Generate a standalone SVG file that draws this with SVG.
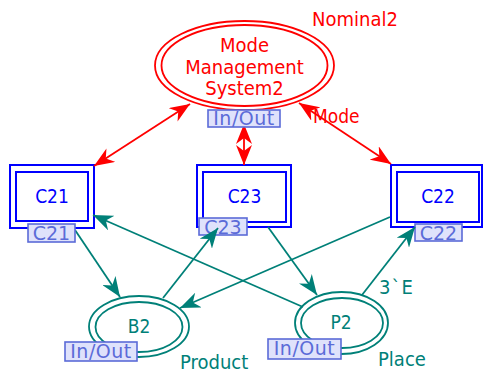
<svg xmlns="http://www.w3.org/2000/svg" width="484" height="373" viewBox="0 0 484 373">
<style>
text{font-family:"DejaVu Sans Condensed","DejaVu Sans",sans-serif;}
.red{fill:none;stroke:#ff0000;stroke-width:1.8;}
.redt{fill:#ff0000;font-size:20px;}
.blue{fill:none;stroke:#0000ff;stroke-width:2;}
.bluet{fill:#0000ff;font-size:19px;text-anchor:middle;}
.teal{fill:none;stroke:#008078;stroke-width:1.8;}
.tealt{fill:#008078;font-size:20px;}
.tag{fill:#dfe2fb;stroke:#5b6bd8;stroke-width:1.6;}
.tagt{fill:#5b6bd8;font-size:19px;font-family:"DejaVu Sans",sans-serif;}
.cr{stroke:#ff0000;stroke-width:1.8;fill:none;marker-start:url(#ar);marker-end:url(#ar);}
.ct{stroke:#008078;stroke-width:1.8;fill:none;marker-end:url(#at);}
</style>
<defs>
<marker id="ar" viewBox="0 0 20 16" refX="20" refY="8" markerWidth="20" markerHeight="16" markerUnits="userSpaceOnUse" orient="auto-start-reverse"><path d="M0,0 L20,8 L0,16 L6,8 z" fill="#ff0000"/></marker>
<marker id="at" viewBox="0 0 20 16" refX="20" refY="8" markerWidth="20" markerHeight="16" markerUnits="userSpaceOnUse" orient="auto"><path d="M0,0 L20,8 L0,16 L6,8 z" fill="#008078"/></marker>
</defs>
<rect width="484" height="373" fill="#ffffff"/>
<g id="MMS2">
<ellipse cx="244.5" cy="65.5" rx="89.5" ry="44.5" fill="#ffffff" stroke="#ff0000" stroke-width="1.8"/>
<ellipse cx="244.5" cy="65.5" rx="83" ry="40.5" class="red"/>
<text class="redt" x="244.5" y="52" text-anchor="middle">Mode</text>
<text class="redt" x="244.5" y="74" text-anchor="middle">Management</text>
<text class="redt" x="244.5" y="95" text-anchor="middle">System2</text>
<text class="redt" x="312" y="26">Nominal2</text>
</g>
<g id="C21">
<rect class="blue" x="10" y="165" width="84" height="63" fill="#ffffff"/>
<rect class="blue" x="16" y="172" width="72" height="49"/>
<text class="bluet" x="52" y="203">C21</text>
</g>
<g id="C23">
<rect class="blue" x="197" y="165" width="94" height="62" fill="#ffffff"/>
<rect class="blue" x="203" y="172" width="83" height="50"/>
<text class="bluet" x="244.5" y="203">C23</text>
</g>
<g id="C22">
<rect class="blue" x="391" y="165" width="91" height="62" fill="#ffffff"/>
<rect class="blue" x="397" y="172" width="82" height="50"/>
<text class="bluet" x="438" y="203">C22</text>
</g>
<g id="B2">
<ellipse cx="139" cy="326.5" rx="50" ry="30.5" fill="#ffffff" stroke="#008078" stroke-width="1.8"/>
<ellipse cx="139" cy="327" rx="43.5" ry="25" class="teal"/>
<text class="tealt" x="139" y="333" text-anchor="middle" style="font-size:19px">B2</text>
<text class="tealt" x="180" y="369">Product</text>
</g>
<g id="P2">
<ellipse cx="341.5" cy="323" rx="46.5" ry="31" fill="#ffffff" stroke="#008078" stroke-width="1.8"/>
<ellipse cx="342" cy="323" rx="41" ry="25" class="teal"/>
<text class="tealt" x="341" y="329" text-anchor="middle" style="font-size:19px">P2</text>
<text class="tealt" x="378" y="366">Place</text>
</g>
<g id="connectors">
<line class="cr" x1="190" y1="104" x2="94" y2="166"/>
<line class="cr" x1="244" y1="124" x2="244" y2="165"/>
<line class="cr" x1="299" y1="103" x2="391" y2="164"/>
<text class="redt" x="313" y="123" style="font-size:19px">Mode</text>
<line class="ct" x1="75" y1="230" x2="120" y2="297"/>
<line class="ct" x1="268" y1="227" x2="317" y2="295"/>
<line class="ct" x1="303" y1="307" x2="93" y2="215"/>
<line class="ct" x1="390" y1="217" x2="180" y2="308"/>
<text class="tealt" x="379" y="294" style="letter-spacing:1px">3`E</text>
</g>
<g id="tags">
<rect class="tag" x="208" y="110" width="72" height="17"/>
<text class="tagt" x="244" y="125" text-anchor="middle" style="letter-spacing:0.5px">In/Out</text>
<rect class="tag" x="28" y="224" width="47" height="18"/>
<text class="tagt" x="51.5" y="240" text-anchor="middle">C21</text>
<rect class="tag" x="199" y="218" width="48" height="17"/>
<text class="tagt" x="223" y="234" text-anchor="middle">C23</text>
<rect class="tag" x="415" y="224" width="47" height="17"/>
<text class="tagt" x="438.5" y="240" text-anchor="middle">C22</text>
<rect class="tag" x="65" y="342" width="72" height="19"/>
<text class="tagt" x="101" y="358" text-anchor="middle" style="letter-spacing:0.5px">In/Out</text>
<rect class="tag" x="268" y="339" width="73" height="20"/>
<text class="tagt" x="304.5" y="355" text-anchor="middle" style="letter-spacing:0.5px">In/Out</text>
</g>
<g id="connectors-over">
<line class="ct" x1="163" y1="298" x2="218" y2="228"/>
<line class="ct" x1="362" y1="295" x2="415" y2="227"/>
</g>
</svg>
